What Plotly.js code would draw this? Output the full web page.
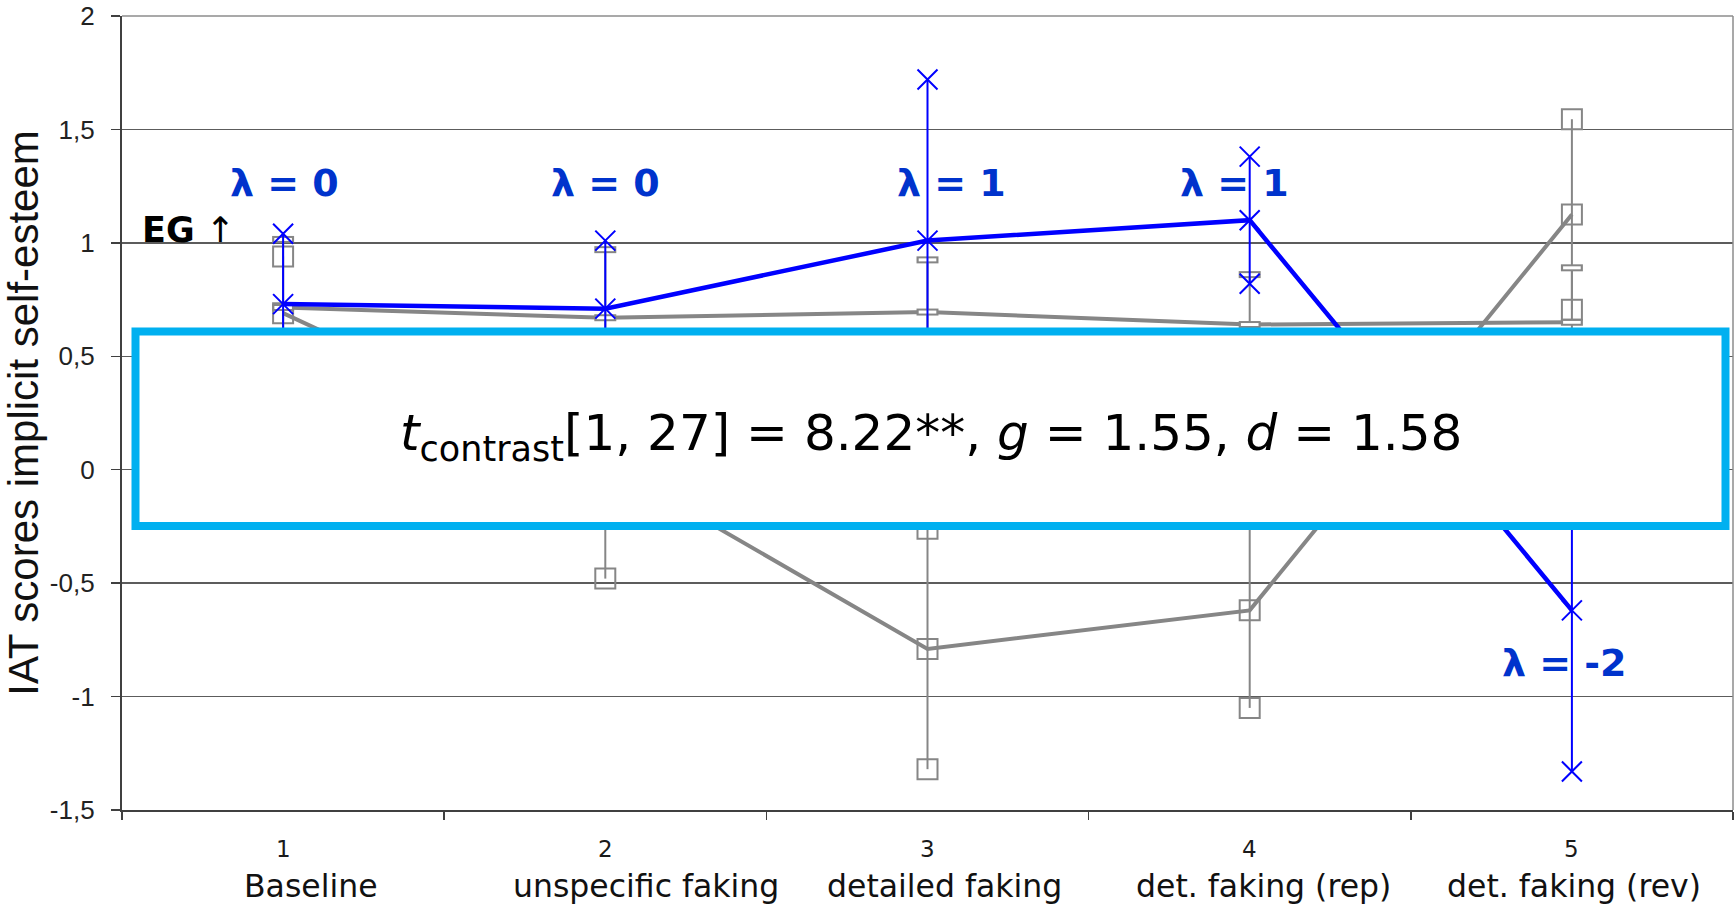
<!DOCTYPE html>
<html>
<head>
<meta charset="utf-8">
<script src="https://cdn.plot.ly/plotly-3.0.1.min.js"></script>
<style>
  html, body { margin: 0; padding: 0; background: #ffffff; }
  #chart { width: 1734px; height: 905px; }
</style>
</head>
<body>
<div id="chart"></div>
<script>
// Measurement stages
const stageX = [1, 2, 3, 4, 5];
const stageNumbers = ['1', '2', '3', '4', '5'];
const stageNames = ['Baseline', 'unspecific faking', 'detailed faking', 'det. faking (rep)', 'det. faking (rev)'];

// Experimental group (EG): mean IAT score and standard deviation per stage
const egMean = [0.73, 0.71, 1.01, 1.10, -0.62];
const egSD   = [0.31, 0.30, 0.71, 0.28, 0.71];

// Control group, flat course
const cgMean = [0.715, 0.67, 0.695, 0.64, 0.65];
const cgSD   = [0.30, 0.30, 0.23, 0.22, 0.24];

// Second comparison group
const cg2Mean = [0.69, 0.03, -0.79, -0.62, 1.125];
const cg2SD   = [0.25, 0.51, 0.53, 0.43, 0.42];

// Contrast weights (lambda) per stage
const lambdaWeights = [0, 0, 1, 1, -2];

// Y axis ticks (decimal comma)
const yTickVals = [-1.5, -1, -0.5, 0, 0.5, 1, 1.5, 2];
const yTickLabels = ['-1,5', '-1', '-0,5', '0', '0,5', '1', '1,5', '2'];

// ---- presentation settings ----
const BLUE = '#0000ff';
const GREY = '#868686';
const LABEL_BLUE = '#0033cc';
const lambdaLabelY = [1.264, 1.264, 1.264, 1.264, -0.852];
const lambdaShift = [1, 0, 24, -15, -7];
const nameShift = [28, 41, 17, 14, 2];
// small non-breaking gap between tick labels and tick marks
const TICK_GAP = '<span style="font-size:20px">\u00a0\u00a0</span>';

// error-bar end points derived from mean +/- SD
function ends(mean, sd) {
  return {
    x: stageX.concat(stageX),
    y: mean.map((m, i) => m + sd[i]).concat(mean.map((m, i) => m - sd[i]))
  };
}
const egEnds = ends(egMean, egSD);
const cgEnds = ends(cgMean, cgSD);
const cg2Ends = ends(cg2Mean, cg2SD);

// flat "bar" marker: a grey thick dash with a white core gives a hollow slim rectangle
function slimRect(xs, ys) {
  return [
    { x: xs, y: ys, type: 'scatter', mode: 'markers', hoverinfo: 'skip', showlegend: false,
      marker: { symbol: 'line-ew-open', size: 15.7, color: GREY, line: { width: 7 } } },
    { x: xs, y: ys, type: 'scatter', mode: 'markers', hoverinfo: 'skip', showlegend: false,
      marker: { symbol: 'line-ew-open', size: 12.6, color: '#ffffff', line: { width: 3 } } }
  ];
}

const traces = [];

// control group: line with error bars
traces.push({
  x: stageX, y: cgMean, type: 'scatter', mode: 'lines', name: 'CG', showlegend: false,
  line: { color: GREY, width: 4 },
  error_y: { type: 'data', array: cgSD, visible: true, color: GREY, thickness: 2, width: 0 }
});
// second comparison group: line with error bars
traces.push({
  x: stageX, y: cg2Mean, type: 'scatter', mode: 'lines', name: 'CG2', showlegend: false,
  line: { color: GREY, width: 4 },
  error_y: { type: 'data', array: cg2SD, visible: true, color: GREY, thickness: 2, width: 0 }
});
// control markers (means and error ends)
slimRect(stageX.concat(cgEnds.x), cgMean.concat(cgEnds.y)).forEach(t => traces.push(t));
traces.push({
  x: stageX.concat(cg2Ends.x), y: cg2Mean.concat(cg2Ends.y), type: 'scatter', mode: 'markers',
  hoverinfo: 'skip', showlegend: false,
  marker: { symbol: 'square-open', size: 20, color: GREY, line: { width: 2 } }
});
// experimental group
traces.push({
  x: stageX, y: egMean, type: 'scatter', mode: 'lines+markers', name: 'EG', showlegend: false,
  line: { color: BLUE, width: 4.5 },
  marker: { symbol: 'x-thin-open', size: 20, color: BLUE, line: { width: 2 } },
  error_y: { type: 'data', array: egSD, visible: true, color: BLUE, thickness: 2, width: 0 }
});
traces.push({
  x: egEnds.x, y: egEnds.y, type: 'scatter', mode: 'markers', hoverinfo: 'skip', showlegend: false,
  marker: { symbol: 'x-thin-open', size: 20, color: BLUE, line: { width: 2 } }
});

const annotations = [];

// stage labels under the axis
stageX.forEach((x, i) => {
  annotations.push({
    x: x, y: 0, xref: 'x', yref: 'paper', yanchor: 'middle', yshift: -39, showarrow: false,
    text: stageNumbers[i], font: { family: 'DejaVu Sans', size: 23, color: '#1a1a1a' }
  });
  annotations.push({
    x: x, y: 0, xref: 'x', yref: 'paper', yanchor: 'middle', yshift: -76, xshift: nameShift[i],
    showarrow: false, text: stageNames[i], font: { family: 'DejaVu Sans', size: 31.5, color: '#111111' }
  });
});

// contrast weight labels
lambdaWeights.forEach((w, i) => {
  annotations.push({
    x: stageX[i], y: lambdaLabelY[i], xref: 'x', yref: 'y', xshift: lambdaShift[i],
    yanchor: 'middle', showarrow: false,
    text: '<b>\u03bb = ' + w + '</b>',
    font: { family: 'DejaVu Sans', size: 38, color: LABEL_BLUE }
  });
});

// group marker
annotations.push({
  x: 0, y: 1, xref: 'paper', yref: 'y', xanchor: 'left', yanchor: 'bottom',
  xshift: 18, yshift: -9, showarrow: false,
  text: '<b>EG</b> \u2191', font: { family: 'DejaVu Sans', size: 35, color: '#000000' }
});

// contrast test result (text; its frame is a shape below)
annotations.push({
  x: 0.5019, y: 0.4805, xref: 'paper', yref: 'paper', xanchor: 'center', yanchor: 'middle',
  yshift: -8, showarrow: false, align: 'center',
  text: '<i>t</i><sub>contrast</sub>[1, 27] = 8.22**, <i>g</i> = 1.55, <i>d</i> = 1.58',
  font: { family: 'DejaVu Sans', size: 50, color: '#000000' }
});

const layout = {
  width: 1734, height: 905,
  margin: { l: 122, r: 1, t: 16, b: 95, pad: 0 },
  paper_bgcolor: '#ffffff', plot_bgcolor: '#ffffff',
  showlegend: false,
  xaxis: {
    range: [0.5, 5.5], tickvals: [0.5, 1.5, 2.5, 3.5, 4.5, 5.5], showticklabels: false,
    ticks: 'outside', ticklen: 8, tickwidth: 1.5, tickcolor: '#404040',
    showgrid: false, zeroline: false, showline: true, linecolor: '#404040', linewidth: 2
  },
  yaxis: {
    range: [-1.5, 2], tickvals: yTickVals, ticktext: yTickLabels.map(t => t + TICK_GAP),
    ticks: 'outside', ticklen: 9, tickwidth: 1.5, tickcolor: '#404040',
    tickfont: { family: 'Liberation Sans, Arial', size: 26, color: '#222222' },
    showgrid: true, gridcolor: '#5c5c5c', gridwidth: 1.5,
    zeroline: false, showline: true, linecolor: '#404040', linewidth: 2,
    title: { text: 'IAT scores implicit self-esteem', standoff: 0,
             font: { family: 'Liberation Sans, Arial', size: 42, color: '#111111' } }
  },
  shapes: [
    { type: 'line', xref: 'paper', yref: 'paper', x0: 0, x1: 1, y0: 1, y1: 1,
      line: { color: '#8c8c8c', width: 1.5 } },
    { type: 'line', xref: 'paper', yref: 'paper', x0: 1, x1: 1, y0: 0, y1: 1,
      line: { color: '#8c8c8c', width: 1.5 } },
    { type: 'rect', xref: 'paper', yref: 'paper', layer: 'above',
      x0: 0.00838, x1: 0.99534, y0: 0.35768, y1: 0.60264,
      fillcolor: '#ffffff', line: { color: '#00b0f0', width: 8 } }
  ],
  annotations: annotations
};

Plotly.newPlot('chart', traces, layout, { displayModeBar: false, staticPlot: true });
</script>
</body>
</html>
